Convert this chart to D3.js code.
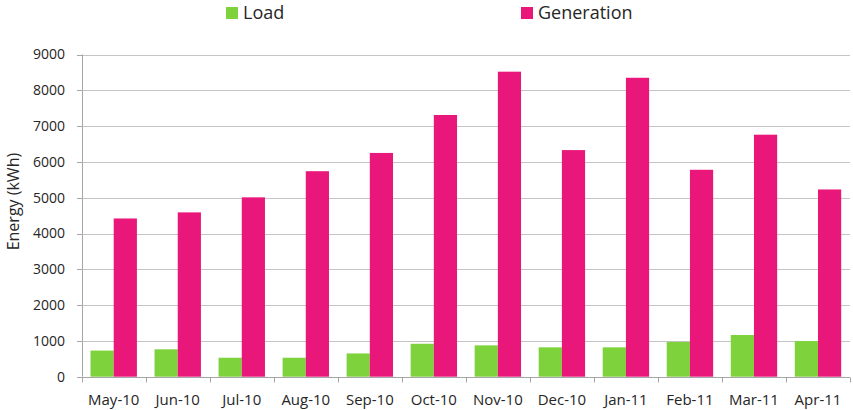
<!DOCTYPE html>
<html>
<head>
<meta charset="utf-8">
<script src="https://cdn.jsdelivr.net/npm/d3@7/dist/d3.min.js"></script>
<style>
  html, body { margin: 0; padding: 0; background: #fff; }
  svg text { font-family: "Open Sans", sans-serif; fill: #262626; }
</style>
</head>
<body>
<svg id="chart" width="853" height="410"></svg>
<script>
// Monthly energy: load vs. PV generation
const months = ["May-10","Jun-10","Jul-10","Aug-10","Sep-10","Oct-10","Nov-10","Dec-10","Jan-11","Feb-11","Mar-11","Apr-11"];
const load = [730, 765, 530, 530, 650, 920, 875, 820, 820, 970, 1165, 995];
const generation = [4420, 4590, 5010, 5740, 6250, 7310, 8520, 6330, 8350, 5780, 6760, 5230];
const seriesNames = ["Load", "Generation"];
const seriesColors = ["#7ed23b", "#ea177b"];
const yTicks = [0, 1000, 2000, 3000, 4000, 5000, 6000, 7000, 8000, 9000];

const svg = d3.select("#chart");
const margin = { left: 81.7, right: 3, top: 54.5, bottom: 33.3 };
const W = 853, H = 410;

const x = d3.scaleBand().domain(months).range([margin.left, W - margin.right]).paddingInner(0).paddingOuter(0);
const y = d3.scaleLinear().domain([0, 9000]).range([H - margin.bottom, margin.top]);
const sub = d3.scaleBand().domain([0, 1]).range([0, x.bandwidth()]).paddingInner(0).paddingOuter(0.38);

// horizontal gridlines
svg.append("g").selectAll("line").data(yTicks.filter(d => d > 0)).join("line")
  .attr("x1", margin.left).attr("x2", W - margin.right)
  .attr("y1", d => Math.round(y(d)) + 0.5).attr("y2", d => Math.round(y(d)) + 0.5)
  .attr("stroke", "#c4c4c4").attr("stroke-width", 1);

// bars
const rows = months.map((m, i) => ({ m, vals: [load[i], generation[i]] }));
const groups = svg.append("g").selectAll("g").data(rows).join("g")
  .attr("transform", d => `translate(${x(d.m)},0)`);
groups.selectAll("rect").data(d => d.vals.map((v, k) => ({ v, k }))).join("rect")
  .attr("x", d => sub(d.k))
  .attr("width", sub.bandwidth())
  .attr("y", d => y(d.v))
  .attr("height", d => y(0) - y(d.v))
  .attr("fill", d => seriesColors[d.k]);

// x axis
const xAxis = svg.append("g").attr("transform", `translate(0,${Math.round(y(0)) + 0.5})`);
xAxis.append("line").attr("x1", margin.left).attr("x2", W - margin.right)
  .attr("stroke", "#a6a6a6");
const xBounds = months.map(m => x(m)).concat([x(months[months.length - 1]) + x.bandwidth()]);
xAxis.selectAll("line.tick").data(xBounds).join("line").attr("class", "tick")
  .attr("x1", d => Math.round(d) + 0.5).attr("x2", d => Math.round(d) + 0.5)
  .attr("y1", 0).attr("y2", 5).attr("stroke", "#a6a6a6");
xAxis.selectAll("text").data(months).join("text")
  .attr("x", d => x(d) + x.bandwidth() / 2).attr("y", 27)
  .attr("text-anchor", "middle").attr("font-size", 15).text(d => d);

// y axis
const yAxis = svg.append("g");
yAxis.append("line").attr("x1", Math.round(margin.left) + 0.5).attr("x2", Math.round(margin.left) + 0.5)
  .attr("y1", y(9000)).attr("y2", y(0)).attr("stroke", "#a6a6a6");
yAxis.selectAll("line.tick").data(yTicks).join("line").attr("class", "tick")
  .attr("x1", Math.round(margin.left) - 5).attr("x2", Math.round(margin.left))
  .attr("y1", d => Math.round(y(d)) + 0.5).attr("y2", d => Math.round(y(d)) + 0.5)
  .attr("stroke", "#a6a6a6");
yAxis.selectAll("text").data(yTicks).join("text")
  .attr("x", 65).attr("y", d => y(d)).attr("dy", "0.35em")
  .attr("text-anchor", "end").attr("font-size", 14).text(d => d);

svg.append("text").attr("transform", `translate(19,${(y(0) + y(9000)) / 2 - 14}) rotate(-90)`)
  .attr("text-anchor", "middle").attr("font-size", 16).text("Energy (kWh)");

// legend
const legendX = [226, 521];
const lg = svg.append("g").selectAll("g").data(seriesNames).join("g")
  .attr("transform", (d, i) => `translate(${legendX[i]},7)`);
lg.append("rect").attr("width", 12).attr("height", 12).attr("fill", (d, i) => seriesColors[i]);
lg.append("text").attr("x", 17).attr("y", 6).attr("dy", "0.36em").attr("font-size", 18).text(d => d);
</script>
</body>
</html>
